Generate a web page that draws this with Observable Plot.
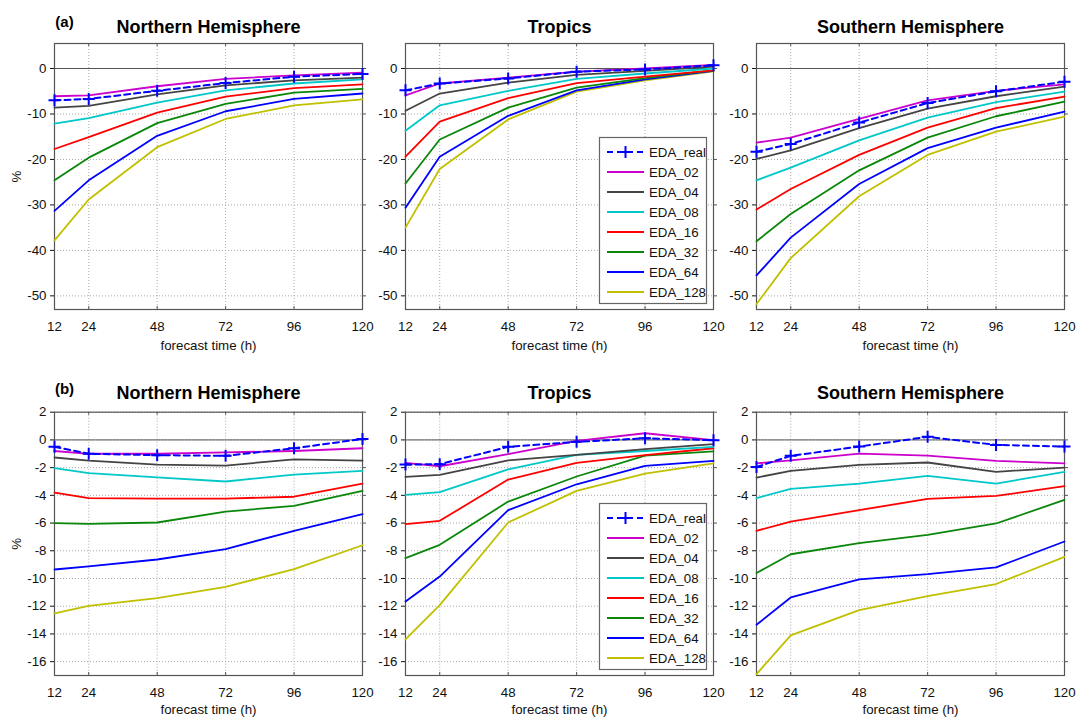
<!DOCTYPE html>
<html><head><meta charset="utf-8">
<script src="https://cdn.jsdelivr.net/npm/d3@7"></script>
<script src="https://cdn.jsdelivr.net/npm/@observablehq/plot@0.6"></script>
<style>
body{margin:0;background:#fff;}
#chart{position:relative;width:1076px;height:717px;background:#fff;font-family:"Liberation Sans",Arial,Helvetica,sans-serif;overflow:hidden;}
#chart svg{position:absolute;overflow:visible;background:transparent;max-width:none;}
#chart svg g[aria-label*="axis"] text{font-size:13.3px;font-family:"Liberation Sans",Arial,Helvetica,sans-serif;fill:#111;}
</style></head><body><div id="chart"></div>
<script>
const hours = [12, 24, 48, 72, 96, 120];
const seriesNames = ["EDA_real", "EDA_02", "EDA_04", "EDA_08", "EDA_16", "EDA_32", "EDA_64", "EDA_128"];
const seriesColors = ["#0000ff", "#cc00cc", "#444444", "#00c8c8", "#ff0000", "#0a870a", "#0000ff", "#c0c000"];
const regions = ["Northern Hemisphere", "Tropics", "Southern Hemisphere"];
const rowLetters = ["(a)", "(b)"];
const yTicksA = [0, -10, -20, -30, -40, -50];
const yTicksB = [2, 0, -2, -4, -6, -8, -10, -12, -14, -16];
const xLabel = "forecast time (h)";
const yLabel = "%";

// Row (a) — Northern Hemisphere
const aNH_real = [-7.0, -6.7, -4.9, -3.2, -1.8, -1.2];
const aNH_02 = [-6.1, -5.9, -3.9, -2.3, -1.5, -0.9];
const aNH_04 = [-8.6, -8.2, -5.7, -3.7, -2.6, -2.0];
const aNH_08 = [-12.1, -10.9, -7.5, -4.8, -3.3, -2.4];
const aNH_16 = [-17.7, -15.1, -9.7, -6.2, -4.3, -3.5];
const aNH_32 = [-24.6, -19.6, -12.0, -7.8, -5.3, -4.5];
const aNH_64 = [-31.3, -24.6, -14.8, -9.4, -6.7, -5.5];
const aNH_128 = [-37.8, -28.8, -17.3, -11.1, -8.1, -6.8];
// Row (a) — Tropics
const aTR_real = [-4.8, -3.3, -2.2, -0.7, -0.2, 0.7];
const aTR_02 = [-5.9, -3.3, -2.0, -0.7, 0.0, 0.8];
const aTR_04 = [-9.3, -5.5, -3.1, -1.4, -0.5, 0.4];
const aTR_08 = [-13.7, -8.1, -4.9, -2.3, -1.1, 0.0];
const aTR_16 = [-19.4, -11.7, -6.5, -3.2, -1.8, -0.4];
const aTR_32 = [-25.3, -15.6, -8.6, -4.2, -2.1, -0.4];
const aTR_64 = [-30.6, -19.4, -10.4, -4.8, -2.4, -0.5];
const aTR_128 = [-35.0, -22.1, -11.2, -5.1, -2.6, -0.6];
// Row (a) — Southern Hemisphere
const aSH_real = [-18.3, -16.6, -11.9, -7.6, -5.0, -2.9];
const aSH_02 = [-16.3, -15.2, -11.1, -7.0, -4.9, -3.5];
const aSH_04 = [-19.9, -18.0, -13.1, -8.8, -6.1, -4.0];
const aSH_08 = [-24.6, -21.8, -15.8, -10.8, -7.4, -5.1];
const aSH_16 = [-31.0, -26.5, -19.0, -13.0, -8.7, -6.2];
const aSH_32 = [-38.0, -32.0, -22.4, -15.2, -10.5, -7.3];
const aSH_64 = [-45.5, -37.2, -25.4, -17.5, -13.0, -9.5];
const aSH_128 = [-51.8, -41.7, -28.1, -19.0, -13.9, -10.6];
// Row (b) — Northern Hemisphere
const bNH_real = [-0.5, -1.0, -1.1, -1.15, -0.6, 0.07];
const bNH_02 = [-0.8, -1.0, -1.0, -0.9, -0.8, -0.6];
const bNH_04 = [-1.27, -1.5, -1.78, -1.85, -1.4, -1.5];
const bNH_08 = [-2.04, -2.4, -2.7, -3.0, -2.5, -2.24];
const bNH_16 = [-3.8, -4.2, -4.23, -4.23, -4.1, -3.15];
const bNH_32 = [-6.0, -6.06, -5.96, -5.17, -4.76, -3.68];
const bNH_64 = [-9.35, -9.13, -8.63, -7.88, -6.56, -5.36];
const bNH_128 = [-12.52, -11.97, -11.42, -10.6, -9.33, -7.6];
// Row (b) — Tropics
const bTR_real = [-1.78, -1.75, -0.5, -0.14, 0.12, -0.02];
const bTR_02 = [-1.66, -1.9, -1.03, -0.07, 0.48, -0.02];
const bTR_04 = [-2.67, -2.52, -1.47, -1.08, -0.67, -0.31];
const bTR_08 = [-3.97, -3.77, -2.12, -1.08, -0.8, -0.5];
const bTR_16 = [-6.08, -5.84, -2.86, -1.66, -1.1, -0.6];
const bTR_32 = [-8.53, -7.57, -4.45, -2.64, -1.13, -0.82];
const bTR_64 = [-11.66, -9.86, -5.07, -3.2, -1.88, -1.51];
const bTR_128 = [-14.4, -11.92, -5.96, -3.68, -2.43, -1.7];
// Row (b) — Southern Hemisphere
const bSH_real = [-1.95, -1.15, -0.48, 0.22, -0.36, -0.48];
const bSH_02 = [-1.7, -1.47, -0.99, -1.13, -1.51, -1.7];
const bSH_04 = [-2.72, -2.24, -1.8, -1.63, -2.3, -2.0];
const bSH_08 = [-4.2, -3.53, -3.15, -2.6, -3.15, -2.3];
const bSH_16 = [-6.56, -5.89, -5.07, -4.25, -4.04, -3.34];
const bSH_32 = [-9.6, -8.25, -7.45, -6.85, -6.03, -4.33];
const bSH_64 = [-13.34, -11.37, -10.07, -9.69, -9.2, -7.33];
const bSH_128 = [-16.9, -14.1, -12.28, -11.27, -10.4, -8.44];

const panelsA = [
  [aNH_real, aNH_02, aNH_04, aNH_08, aNH_16, aNH_32, aNH_64, aNH_128],
  [aTR_real, aTR_02, aTR_04, aTR_08, aTR_16, aTR_32, aTR_64, aTR_128],
  [aSH_real, aSH_02, aSH_04, aSH_08, aSH_16, aSH_32, aSH_64, aSH_128]
];
const panelsB = [
  [bNH_real, bNH_02, bNH_04, bNH_08, bNH_16, bNH_32, bNH_64, bNH_128],
  [bTR_real, bTR_02, bTR_04, bTR_08, bTR_16, bTR_32, bTR_64, bTR_128],
  [bSH_real, bSH_02, bSH_04, bSH_08, bSH_16, bSH_32, bSH_64, bSH_128]
];

function toRows(arrs) {
  const rows = [];
  arrs.forEach((vals, si) => vals.forEach((v, i) => rows.push({series: seriesNames[si], hour: hours[i], value: v})));
  return rows;
}

const plusSymbol = {
  draw(ctx, size) {
    const r = Math.sqrt(size / Math.PI);
    ctx.moveTo(-r, 0); ctx.lineTo(r, 0);
    ctx.moveTo(0, -r); ctx.lineTo(0, r);
  }
};

const chart = document.getElementById("chart");
const FONT = '"Liberation Sans", Arial, Helvetica, sans-serif';
const frameLefts = [54, 405, 756];
const FW = 308, ML = 54, MR = 12;

function makePanel(row, col) {
  const isA = row === 0;
  const arrs = (isA ? panelsA : panelsB)[col];
  const data = toRows(arrs);
  const domain = isA ? [-53, 5.5] : [-17, 2];
  const yTicks = isA ? yTicksA : yTicksB;
  const mTop = isA ? 43 : 51.7;
  const plotH = isA ? 266 : 263.3;
  const mBottom = isA ? 51 : 42;
  const top = isA ? 0 : 360;
  const pxPerUnit = plotH / (domain[1] - domain[0]);
  const tickIn = 3 / pxPerUnit;
  const xOut = 4 * 108 / FW;
  const realData = data.filter(d => d.series === "EDA_real");
  const solidData = data.filter(d => d.series !== "EDA_real");
  const marks = [
    Plot.ruleX(hours, {stroke: "#aaa", strokeDasharray: "1,2"}),
    Plot.ruleY(yTicks, {stroke: "#aaa", strokeDasharray: "1,2"}),
    Plot.ruleY([0], {stroke: "#555", strokeWidth: 1}),
    Plot.ruleX(hours, {y1: domain[0], y2: domain[0] + tickIn, stroke: "#555"}),
    Plot.ruleX(hours, {y1: domain[1], y2: domain[1] - tickIn, stroke: "#555"}),
    Plot.ruleY(yTicks, {x1: 120, x2: 120 + xOut, stroke: "#555"}),
    Plot.frame({stroke: "#555", strokeWidth: 1.2}),
    Plot.line(solidData.slice().reverse(), {x: "hour", y: "value", z: "series", stroke: "series", strokeWidth: 1.8}),
    Plot.line(realData, {x: "hour", y: "value", stroke: "series", strokeWidth: 2, strokeDasharray: "6,4"}),
    Plot.dot(realData, {x: "hour", y: "value", stroke: "series", symbol: plusSymbol, r: 6, strokeWidth: 2}),
    Plot.text([regions[col]], {text: d => d, frameAnchor: "top", textAnchor: "middle", lineAnchor: "middle", dy: isA ? -16 : -18.5, fontSize: 18, fontWeight: "bold", fill: "#000"}),
    Plot.text([xLabel], {text: d => d, frameAnchor: "bottom", textAnchor: "middle", lineAnchor: "middle", dy: isA ? 36 : 34, fontSize: 13.3, fill: "#111"})
  ];
  if (col === 0) {
    marks.push(Plot.text([rowLetters[row]], {text: d => d, frameAnchor: "top-left", textAnchor: "middle", lineAnchor: "middle", dx: 10, dy: isA ? -21 : -23, fontSize: 15, fontWeight: "bold", fill: "#000"}));
    marks.push(Plot.text([yLabel], {text: d => d, frameAnchor: "left", textAnchor: "middle", lineAnchor: "middle", dx: -38, rotate: -90, fontSize: 13.3, fill: "#111"}));
  }
  const svg = Plot.plot({
    width: ML + FW + MR,
    height: mTop + plotH + mBottom,
    marginLeft: ML, marginRight: MR, marginTop: mTop, marginBottom: mBottom,
    style: {fontFamily: FONT, fontSize: "13.3px", background: "transparent", overflow: "visible", color: "#111"},
    x: {domain: [12, 120], ticks: hours, tickSize: 0, tickPadding: 12, label: null, tickFormat: d => String(d)},
    y: {domain, ticks: yTicks, tickSize: 4, tickPadding: 4, label: null, tickFormat: d => String(d)},
    color: {domain: seriesNames, range: seriesColors},
    marks
  });
  svg.style.left = (frameLefts[col] - ML) + "px";
  svg.style.top = top + "px";
  chart.appendChild(svg);
}

for (let r = 0; r < 2; r++) for (let c = 0; c < 3; c++) makePanel(r, c);

function makeLegend(left, top) {
  const w = 108, h = 167;
  const svg = d3.create("svg").attr("width", w).attr("height", h)
    .style("left", left + "px").style("top", top + "px");
  svg.append("rect").attr("x", 0.5).attr("y", 0.5).attr("width", w - 1).attr("height", h - 1)
    .attr("fill", "#fff").attr("stroke", "#666").attr("stroke-width", 1.2);
  seriesNames.forEach((name, i) => {
    const y = 15 + 20 * i;
    const g = svg.append("g");
    g.append("line").attr("x1", 8).attr("x2", 45).attr("y1", y).attr("y2", y)
      .attr("stroke", seriesColors[i]).attr("stroke-width", 2)
      .attr("stroke-dasharray", i === 0 ? "6,4" : null);
    if (i === 0) {
      g.append("path").attr("d", `M${26.5 - 6},${y}H${26.5 + 6}M26.5,${y - 6}V${y + 6}`)
        .attr("stroke", seriesColors[i]).attr("stroke-width", 2);
    }
    g.append("text").attr("x", 50).attr("y", y).attr("dy", "0.36em")
      .attr("font-family", FONT).attr("font-size", 13.3).attr("fill", "#111").text(name);
  });
  chart.appendChild(svg.node());
}
makeLegend(599, 137);
makeLegend(599, 503);
</script></body></html>
